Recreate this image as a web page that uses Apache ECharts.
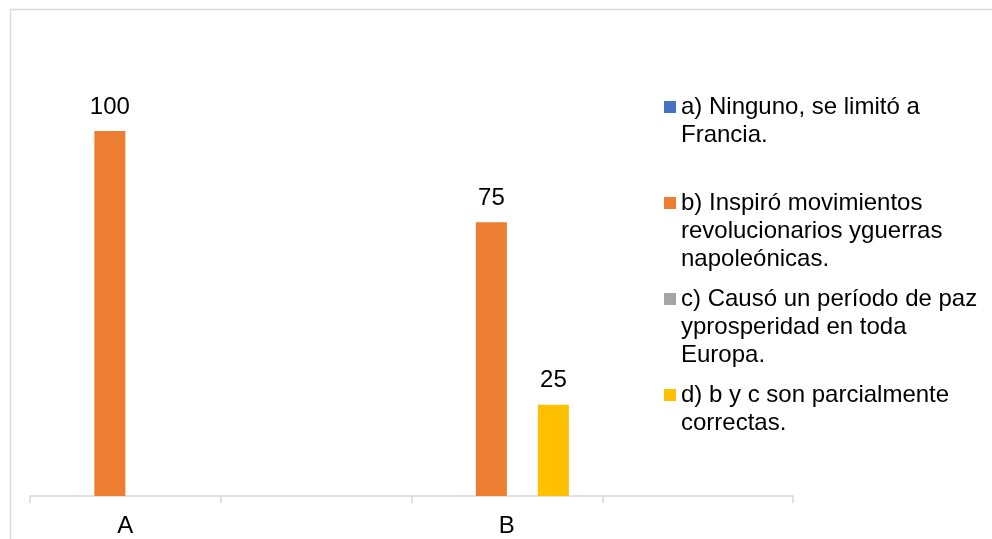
<!DOCTYPE html>
<html><head><meta charset="utf-8">
<script src="https://cdn.jsdelivr.net/npm/echarts@6/dist/echarts.min.js"></script>
<style>html,body{margin:0;padding:0;background:#fff}#c{width:992px;height:539px}</style>
</head><body><div id="c"></div>
<script>
const categories = ['A', '', 'B', ''];
const seriesNames = [
  'a) Ninguno, se limitó a Francia.',
  'b) Inspiró movimientos revolucionarios yguerras napoleónicas.',
  'c) Causó un período de paz yprosperidad en toda Europa.',
  'd) b y c son parcialmente correctas.'
];
const legendLines = [
  ['a) Ninguno, se limitó a', 'Francia.'],
  ['b) Inspiró movimientos', 'revolucionarios yguerras', 'napoleónicas.'],
  ['c) Causó un período de paz', 'yprosperidad en toda', 'Europa.'],
  ['d) b y c son parcialmente', 'correctas.']
];
const valuesA = [0, null, 0, null];
const valuesB = [100, null, 75, null];
const valuesC = [0, null, 0, null];
const valuesD = [0, null, 25, null];
const seriesValues = [valuesA, valuesB, valuesC, valuesD];
const colors = ['#4472C4', '#ED7D31', '#A5A5A5', '#FFC000'];

const LH = 28;
const TOTAL_LINES = 5;

function legendText(lines) {
  // pad so the first line sits at the vertical middle (aligned with the marker)
  const before = (TOTAL_LINES - 1) / 2;
  const after = TOTAL_LINES - before - lines.length;
  const out = [];
  for (let i = 0; i < before; i++) out.push(' ');
  for (let i = 0; i < lines.length; i++) out.push(lines[i]);
  for (let i = 0; i < after; i++) out.push(' ');
  return out.join('\n');
}

const chart = echarts.init(document.getElementById('c'), null, {renderer: 'canvas'});
chart.setOption({
  animation: false,
  backgroundColor: '#fff',
  textStyle: {fontFamily: 'Liberation Sans, Arial, sans-serif'},
  graphic: [{
    type: 'polyline',
    shape: {points: [[10.5, 539], [10.5, 9.5], [992, 9.5]]},
    style: {stroke: '#d9d9d9', lineWidth: 1.5, fill: null},
    silent: true
  }],
  grid: {left: 30, right: 199, top: 58, bottom: 43, containLabel: false},
  legend: {
    orient: 'vertical', left: 664, top: 37, padding: 0, itemGap: 96 - TOTAL_LINES * LH,
    itemWidth: 12, itemHeight: 12, icon: 'rect',
    textStyle: {fontSize: 24, lineHeight: LH, color: '#000'},
    formatter: function (name) { return legendText(legendLines[seriesNames.indexOf(name)]); },
    data: seriesNames
  },
  xAxis: {
    type: 'category', data: categories,
    axisLine: {lineStyle: {color: '#d9d9d9', width: 1.5}},
    axisTick: {show: true, length: 7, lineStyle: {color: '#d9d9d9', width: 1.5}},
    axisLabel: {fontSize: 24, color: '#000', margin: 18, interval: 0}
  },
  yAxis: {type: 'value', min: 0, max: 120, interval: 20, show: false, splitLine: {show: false}},
  series: seriesNames.map(function (n, i) {
    return {
      type: 'bar', name: n, data: seriesValues[i],
      barWidth: 31, barGap: '0%',
      itemStyle: {color: colors[i]},
      label: {
        show: true, position: 'top', distance: 12, fontSize: 24, color: '#000',
        formatter: function (p) { return p.value ? String(p.value) : ''; }
      }
    };
  })
});
</script></body></html>
